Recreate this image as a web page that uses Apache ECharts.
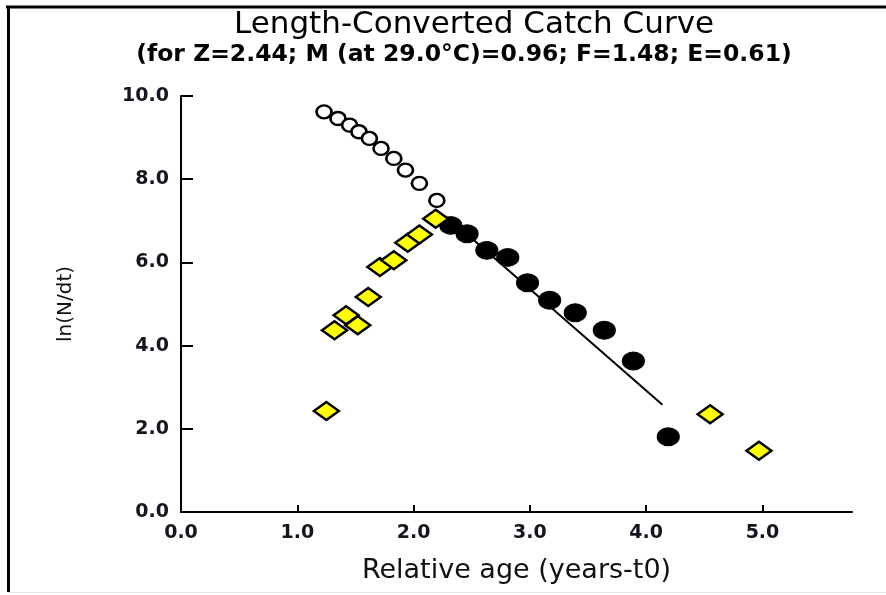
<!DOCTYPE html>
<html>
<head>
<meta charset="utf-8">
<script src="https://cdn.jsdelivr.net/npm/echarts@6/dist/echarts.min.js"></script>
<style>
html,body{margin:0;padding:0;background:#fff;}
#chart{width:886px;height:595px;}
</style>
</head>
<body>
<div id="chart"></div>
<script>
// ---- data ----
var titleText = 'Length-Converted Catch Curve';
var subtitleText = '(for Z=2.44; M (at 29.0\u00B0C)=0.96; F=1.48; E=0.61)';
var xAxisName = 'Relative age (years-t0)';
var yAxisName = 'ln(N/dt)';
var xTicks = [0, 1, 2, 3, 4, 5];
var yTicks = [0, 2, 4, 6, 8, 10];

// open circles (left part, not used)
var openAge = [1.23, 1.35, 1.45, 1.53, 1.62, 1.72, 1.83, 1.93, 2.05, 2.20];
var openLn  = [9.62, 9.46, 9.30, 9.14, 8.98, 8.74, 8.50, 8.22, 7.90, 7.49];

// black points (used in regression)
var usedAge = [2.32, 2.46, 2.63, 2.81, 2.98, 3.17, 3.39, 3.64, 3.89, 4.19];
var usedLn  = [6.89, 6.69, 6.29, 6.12, 5.51, 5.09, 4.79, 4.37, 3.63, 1.81];

// yellow points (not used)
var otherAge = [1.25, 1.32, 1.42, 1.52, 1.61, 1.71, 1.83, 1.95, 2.05, 2.19, 4.55, 4.97];
var otherLn  = [2.43, 4.37, 4.73, 4.49, 5.17, 5.89, 6.05, 6.47, 6.67, 7.05, 2.35, 1.47];

// regression line end points
var lineAge = [2.32, 4.14];
var lineLn  = [7.02, 2.58];

function zip(a, b) { return a.map(function (v, i) { return [v, b[i]]; }); }

var chart = echarts.init(document.getElementById('chart'), null, {renderer: 'canvas'});
var labelFont = {fontFamily: 'DejaVu Sans', fontWeight: 'bold', fontSize: 19, color: '#15151f'};

chart.setOption({
  backgroundColor: '#ffffff',
  animation: false,
  grid: {left: 181, right: 34, top: 96, bottom: 83, containLabel: false},
  graphic: [
    {type: 'text', x: 474, y: 9, style: {text: titleText, x: 0, y: 0, textAlign: 'center', textVerticalAlign: 'top', font: 'normal 31px "DejaVu Sans"', fill: '#000'}},
    {type: 'text', x: 464, y: 43, style: {text: subtitleText, x: 0, y: 0, textAlign: 'center', textVerticalAlign: 'top', font: 'bold 23.5px "DejaVu Sans"', fill: '#000'}},
    {type: 'line', shape: {x1: 6, y1: 7, x2: 886, y2: 7}, style: {stroke: '#000', lineWidth: 3}},
    {type: 'line', shape: {x1: 8.5, y1: 6, x2: 8.5, y2: 592}, style: {stroke: '#000', lineWidth: 3}},
    {type: 'line', shape: {x1: 8, y1: 592.5, x2: 886, y2: 592.5}, style: {stroke: '#e6e6e6', lineWidth: 1}}
  ],
  xAxis: {
    type: 'value', min: 0, max: 5.77,
    name: xAxisName, nameLocation: 'middle', nameGap: 45,
    nameTextStyle: {fontFamily: 'DejaVu Sans', fontSize: 27, color: '#111'},
    axisLine: {show: true, onZero: false, lineStyle: {color: '#000', width: 2}},
    axisTick: {show: true, inside: true, length: 7, lineStyle: {color: '#000', width: 2}, customValues: xTicks},
    axisLabel: Object.assign({margin: 12, customValues: xTicks, formatter: function (v) { return v.toFixed(1); }}, labelFont),
    splitLine: {show: false}
  },
  yAxis: {
    type: 'value', min: 0, max: 10,
    name: yAxisName, nameLocation: 'middle', nameGap: 105, nameRotate: 90,
    nameTextStyle: {fontFamily: 'DejaVu Sans', fontSize: 20, color: '#111'},
    axisLine: {show: true, onZero: false, lineStyle: {color: '#000', width: 2}},
    axisTick: {show: true, inside: true, length: 12, lineStyle: {color: '#000', width: 2}, customValues: yTicks},
    axisLabel: Object.assign({margin: 12, customValues: yTicks, formatter: function (v) { return v.toFixed(1); }}, labelFont),
    splitLine: {show: false}
  },
  series: [
    {type: 'line', data: zip(lineAge, lineLn), symbol: 'none', lineStyle: {color: '#000', width: 2}, z: 1},
    {type: 'scatter', data: zip(openAge, openLn), symbol: 'circle', symbolSize: [15, 13],
     itemStyle: {color: '#fff', borderColor: '#000', borderWidth: 2.5, opacity: 1}, z: 2},
    {type: 'scatter', data: zip(usedAge, usedLn), symbol: 'circle', symbolSize: [22, 18],
     itemStyle: {color: '#000', borderColor: '#000', borderWidth: 1, opacity: 1}, z: 3},
    {type: 'scatter', data: zip(otherAge, otherLn), symbol: 'diamond', symbolSize: [25, 18],
     itemStyle: {color: '#ffff00', borderColor: '#000', borderWidth: 2.5, opacity: 1}, z: 4}
  ]
});
</script>
</body>
</html>
